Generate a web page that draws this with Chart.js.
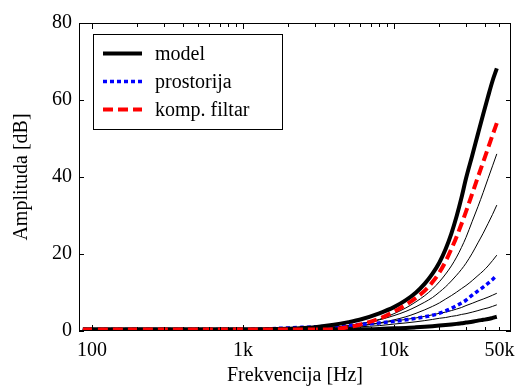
<!DOCTYPE html>
<html>
<head>
<meta charset="utf-8">
<script src="https://cdn.jsdelivr.net/npm/chart.js@4.4.0/dist/chart.umd.min.js"></script>
<style>
  html, body { margin: 0; padding: 0; background: #fff; }
  canvas { display: block; }
</style>
</head>
<body>
<canvas id="amplituda" width="517" height="389"></canvas>
<script>
// frekvencije (Hz) i amplitude (dB) ocitane sa slike
const freqHz = [87, 200, 500, 1000, 2000, 3000, 4000, 5000, 6000, 8000, 10000, 12000, 14000,
  16000, 18000, 20000, 22000, 24000, 26000, 28000, 30000, 33000, 36000, 39000, 42000, 45000, 48000];

const modelUpper = [0.4, 0.4, 0.4, 0.4, 0.6, 1.0, 1.6, 2.3, 3.0, 4.6, 6.2, 8.0, 10.0,
  12.3, 14.9, 17.8, 21.3, 25.3, 29.8, 34.6, 39.6, 45.6, 51.2, 56.3, 60.9, 65.0, 68.2];
const modelLower = [0.4, 0.4, 0.4, 0.4, 0.4, 0.4, 0.4, 0.4, 0.45, 0.55, 0.7, 0.8, 0.95,
  1.1, 1.25, 1.4, 1.55, 1.7, 1.85, 2.0, 2.2, 2.4, 2.7, 2.9, 3.1, 3.4, 3.7];
const prostorija = [0.4, 0.4, 0.4, 0.4, 0.8, 1.1, 1.3, 1.5, 1.7, 2.1, 2.5, 2.9, 3.3,
  3.7, 4.1, 4.6, 5.2, 5.9, 6.6, 7.3, 8.0, 9.3, 10.4, 11.4, 12.4, 13.4, 14.5];
const kompFiltar = [0.4, 0.4, 0.4, 0.4, 0.4, 0.4, 0.5, 1.0, 1.7, 3.2, 5.0, 6.8, 8.6,
  10.5, 12.7, 15.2, 18.1, 21.3, 24.5, 27.8, 31.0, 35.7, 40.0, 43.9, 47.5, 50.9, 54.0];
// tanke krive izmedju
const between1 = [0.4, 0.4, 0.4, 0.4, 0.5, 0.6, 1.0, 1.4, 1.9, 3.0, 4.5, 6.0, 7.6,
  9.2, 10.9, 12.8, 14.8, 16.9, 19.2, 21.7, 24.3, 28.5, 32.3, 36.0, 39.6, 42.9, 46.0];
const between2 = [0.4, 0.4, 0.4, 0.4, 0.5, 0.6, 1.0, 1.4, 1.9, 2.9, 4.0, 5.1, 6.3,
  7.5, 8.7, 10.1, 11.5, 13.0, 14.5, 16.0, 17.6, 20.2, 22.9, 25.4, 27.9, 30.3, 32.7];
const between3 = [0.4, 0.4, 0.4, 0.4, 0.5, 0.6, 0.8, 1.1, 1.4, 2.1, 2.9, 3.7, 4.6,
  5.5, 6.4, 7.3, 8.3, 9.2, 10.1, 11.0, 11.8, 13.1, 14.4, 15.6, 16.9, 18.3, 19.7];
const between4 = [0.4, 0.4, 0.4, 0.4, 0.5, 0.6, 0.8, 1.1, 1.4, 2.0, 2.6, 3.0, 3.4,
  3.8, 4.2, 4.6, 4.9, 5.3, 5.7, 6.1, 6.6, 7.2, 7.8, 8.3, 8.8, 9.3, 9.8];
const between5 = [0.4, 0.4, 0.4, 0.4, 0.5, 0.6, 0.7, 0.9, 1.1, 1.4, 1.8, 2.1, 2.4,
  2.7, 3.0, 3.3, 3.5, 3.8, 4.0, 4.3, 4.5, 4.9, 5.3, 5.7, 6.0, 6.4, 6.8];

const xTickValues = [100, 1000, 10000, 50000];
const xTickLabels = ['100', '1k', '10k', '50k'];
const yTickValues = [0, 20, 40, 60, 80];
const legendOrder = ['model', 'prostorija', 'komp. filtar'];

const FONT = '"Liberation Serif", "Times New Roman", serif';

function pts(ys) {
  return freqHz.map((f, i) => ({ x: f, y: ys[i] }));
}

function thin(ys) {
  return { label: '', data: pts(ys), borderColor: '#000', borderWidth: 1 };
}

// prvi dataset se crta zadnji (na vrhu)
const datasets = [
  { label: 'komp. filtar', data: pts(kompFiltar), borderColor: '#ff0000', borderWidth: 4, borderDash: [10, 5] },
  { label: 'model', data: pts(modelUpper), borderColor: '#000', borderWidth: 4 },
  { label: '', data: pts(modelLower), borderColor: '#000', borderWidth: 4 },
  { label: 'prostorija', data: pts(prostorija), borderColor: '#0000ff', borderWidth: 3.5, borderDash: [4, 3] },
  thin(between1), thin(between2), thin(between3), thin(between4), thin(between5)
];

// okvir i unutrasnje crtice kao u matlabu
const frameTicks = {
  id: 'frameTicks',
  afterDraw(chart) {
    const { ctx, chartArea: a, scales: { x, y } } = chart;
    ctx.save();
    ctx.strokeStyle = '#000';
    ctx.lineWidth = 1;
    ctx.strokeRect(a.left + 0.5, a.top + 0.5, a.right - a.left - 1, a.bottom - a.top - 1);
    ctx.beginPath();
    [100, 1000, 10000].forEach(d => {
      for (let m = 1; m <= 9; m++) {
        const v = m * d;
        if (v < x.min || v > x.max) continue;
        const px = Math.round(x.getPixelForValue(v)) + 0.5;
        const len = m === 1 ? 6 : 4;
        ctx.moveTo(px, a.bottom); ctx.lineTo(px, a.bottom - len);
        ctx.moveTo(px, a.top); ctx.lineTo(px, a.top + len);
      }
    });
    yTickValues.forEach(v => {
      const py = Math.round(y.getPixelForValue(v)) + 0.5;
      ctx.moveTo(a.left, py); ctx.lineTo(a.left + 5, py);
      ctx.moveTo(a.right, py); ctx.lineTo(a.right - 5, py);
    });
    ctx.stroke();
    ctx.restore();
  }
};

// legenda u okviru, gore lijevo
const boxLegend = {
  id: 'boxLegend',
  afterDraw(chart) {
    const { ctx, chartArea: a } = chart;
    const x0 = a.left + 14, y0 = a.top + 11, w = 189, h = 95;
    ctx.save();
    ctx.fillStyle = '#fff';
    ctx.fillRect(x0, y0, w, h);
    ctx.strokeStyle = '#000';
    ctx.lineWidth = 1;
    ctx.strokeRect(x0 + 0.5, y0 + 0.5, w, h);
    ctx.font = '20px ' + FONT;
    ctx.textBaseline = 'middle';
    legendOrder.forEach((name, i) => {
      const ds = chart.data.datasets.find(d => d.label === name);
      const ly = y0 + 19.5 + i * 28;
      ctx.beginPath();
      ctx.setLineDash(ds.borderDash || []);
      ctx.lineWidth = ds.borderWidth;
      ctx.strokeStyle = ds.borderColor;
      ctx.moveTo(x0 + 10, ly);
      ctx.lineTo(x0 + 49, ly);
      ctx.stroke();
      ctx.setLineDash([]);
      ctx.fillStyle = '#000';
      ctx.fillText(name, x0 + 62, ly + 1);
    });
    ctx.restore();
  }
};

const ctx = document.getElementById('amplituda').getContext('2d');
const chart = new Chart(ctx, {
  type: 'line',
  data: { datasets: datasets },
  options: {
    responsive: false,
    animation: false,
    devicePixelRatio: 1,
    layout: { padding: { left: 0, right: 6, top: 23, bottom: 0 } },
    elements: {
      point: { radius: 0 },
      line: { cubicInterpolationMode: 'monotone', fill: false }
    },
    plugins: {
      legend: { display: false },
      tooltip: { enabled: false }
    },
    scales: {
      x: {
        type: 'logarithmic',
        min: 82,
        max: 59600,
        border: { display: false },
        grid: { display: false, drawTicks: false },
        afterBuildTicks: s => { s.ticks = xTickValues.map(v => ({ value: v })); },
        afterFit: s => { s.height = 58; s.paddingLeft = 0; s.paddingRight = 0; },
        ticks: {
          autoSkip: false,
          maxRotation: 0,
          padding: 8,
          color: '#000',
          font: { family: FONT, size: 20 },
          callback: v => xTickLabels[xTickValues.indexOf(v)]
        },
        title: {
          display: true,
          text: 'Frekvencija [Hz]',
          color: '#000',
          font: { family: FONT, size: 20 },
          padding: { top: 0, bottom: 1 }
        }
      },
      y: {
        min: 0,
        max: 80,
        border: { display: false },
        grid: { display: false, drawTicks: false },
        afterBuildTicks: s => { s.ticks = yTickValues.map(v => ({ value: v })); },
        afterFit: s => { s.width = 79; s.paddingTop = 0; s.paddingBottom = 0; },
        ticks: {
          padding: 7,
          color: '#000',
          font: { family: FONT, size: 20 }
        },
        title: {
          display: true,
          text: 'Amplituda [dB]',
          color: '#000',
          font: { family: FONT, size: 20 },
          padding: { top: 10, bottom: 0 }
        }
      }
    }
  },
  plugins: [frameTicks, boxLegend]
});
</script>
</body>
</html>
